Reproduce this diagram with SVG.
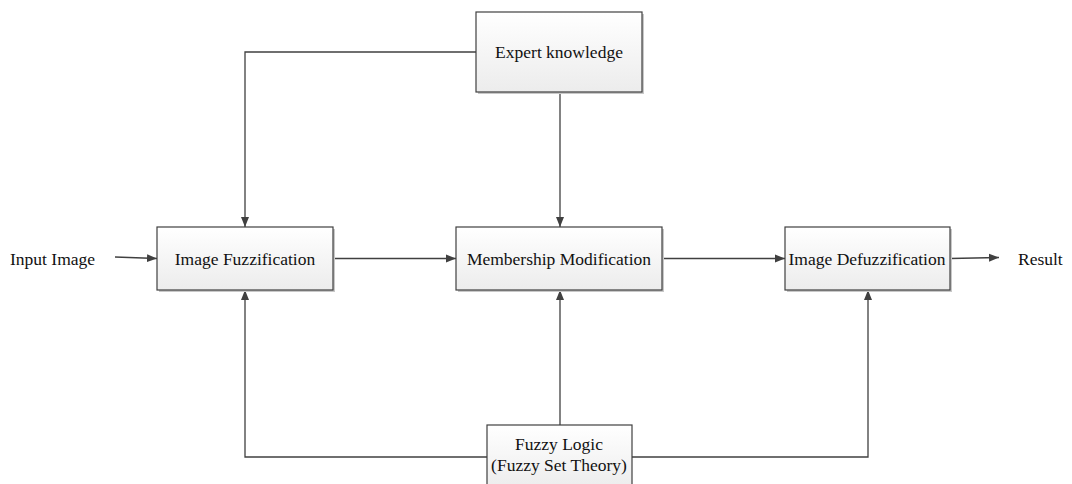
<svg xmlns="http://www.w3.org/2000/svg" width="1072" height="484" viewBox="0 0 1072 484">
  <defs>
    <linearGradient id="boxFill" x1="0" y1="0" x2="0" y2="1">
      <stop offset="0" stop-color="#ffffff"/>
      <stop offset="1" stop-color="#ececec"/>
    </linearGradient>
    <marker id="arrow" viewBox="0 0 10 10" refX="10" refY="5" markerWidth="10" markerHeight="10" markerUnits="userSpaceOnUse" orient="auto">
      <path d="M0,1 L10,5 L0,9 Z" fill="#404040"/>
    </marker>
  </defs>
  <style>
    .box { fill: url(#boxFill); stroke: #404040; stroke-width: 1.2; }
    .shadow { fill: #c8c8c8; }
    .label { font-family: "Liberation Serif", "Times New Roman", serif; font-size: 17.5px; fill: #111; text-anchor: middle; }
    .free { font-family: "Liberation Serif", "Times New Roman", serif; font-size: 17.5px; fill: #111; }
    .conn { fill: none; stroke: #404040; stroke-width: 1.3; }
  </style>
  <rect width="1072" height="484" fill="#ffffff"/>

  <g id="connectors">
    <path class="conn" d="M476,52 H245 V227" marker-end="url(#arrow)"/>
    <path class="conn" d="M560,92 V227" marker-end="url(#arrow)"/>
    <path class="conn" d="M115,257 L157,258.5" marker-end="url(#arrow)"/>
    <path class="conn" d="M333,258.5 H456" marker-end="url(#arrow)"/>
    <path class="conn" d="M662,258.5 H785" marker-end="url(#arrow)"/>
    <path class="conn" d="M950,258.5 L999,257.5" marker-end="url(#arrow)"/>
    <path class="conn" d="M560,425 V290" marker-end="url(#arrow)"/>
    <path class="conn" d="M487,457 H245 V290" marker-end="url(#arrow)"/>
    <path class="conn" d="M632,457 H868 V290" marker-end="url(#arrow)"/>
  </g>

  <g id="expert-knowledge">
    <rect class="shadow" x="478" y="14" width="166" height="80"/>
    <rect class="box" x="476" y="12" width="166" height="80"/>
    <text class="label" x="559" y="58">Expert knowledge</text>
  </g>

  <g id="image-fuzzification">
    <rect class="shadow" x="159" y="229" width="176" height="63"/>
    <rect class="box" x="157" y="227" width="176" height="63"/>
    <text class="label" x="245" y="265">Image Fuzzification</text>
  </g>

  <g id="membership-modification">
    <rect class="shadow" x="458" y="229" width="206" height="63"/>
    <rect class="box" x="456" y="227" width="206" height="63"/>
    <text class="label" x="559" y="265">Membership Modification</text>
  </g>

  <g id="image-defuzzification">
    <rect class="shadow" x="787" y="229" width="165" height="63"/>
    <rect class="box" x="785" y="227" width="165" height="63"/>
    <text class="label" x="867" y="265">Image Defuzzification</text>
  </g>

  <g id="fuzzy-logic">
    <rect class="box" x="487" y="425" width="145" height="65"/>
    <text class="label" x="559" y="450">Fuzzy Logic</text>
    <text class="label" x="559" y="471">(Fuzzy Set Theory)</text>
  </g>

  <g id="input-image">
    <text class="free" x="10" y="265">Input Image</text>
  </g>
  <g id="result">
    <text class="free" x="1018" y="265">Result</text>
  </g>
</svg>
